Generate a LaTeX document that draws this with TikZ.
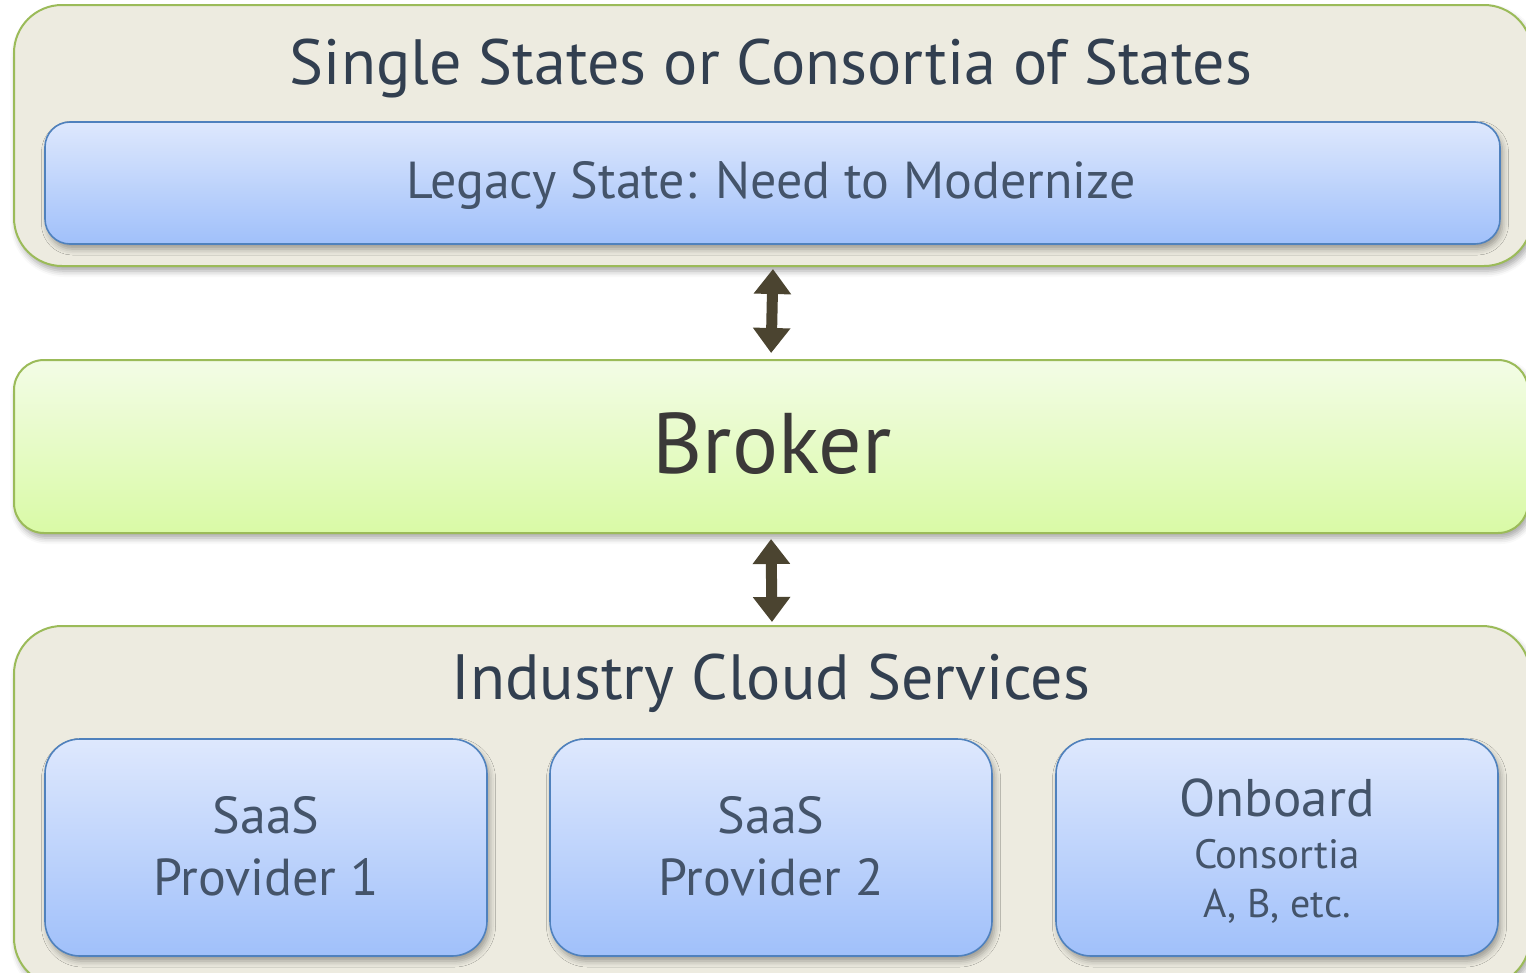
\documentclass[tikz,border=0pt]{standalone}
\usepackage{fontspec}
\setmainfont{PT Sans}
\usetikzlibrary{arrows.meta,shadows.blur}
\definecolor{outerfill}{HTML}{EDEBE0}
\definecolor{greenline}{HTML}{9BBB59}
\definecolor{bluetop}{HTML}{DEE8FD}
\definecolor{bluebot}{HTML}{A0C0FA}
\definecolor{blueline}{HTML}{4F81BD}
\definecolor{brokertop}{HTML}{F3FCE6}
\definecolor{brokerbot}{HTML}{D9FAA6}
\definecolor{titletext}{HTML}{323F50}
\definecolor{innertext}{HTML}{44546A}
\definecolor{brokertext}{HTML}{3B3938}
\definecolor{arrowcol}{HTML}{4B4430}
\tikzset{
  shadowed/.style={blur shadow={shadow xshift=2.5pt, shadow yshift=-5pt, shadow blur radius=6pt, shadow opacity=35}},
  outerbox/.style={draw=greenline, line width=2pt, fill=outerfill, rounded corners=48pt, inner sep=0pt, shadowed},
  brokerbox/.style={draw=greenline, line width=2pt, top color=brokertop, bottom color=brokerbot, rounded corners=30pt, inner sep=0pt, shadowed},
  bluebox/.style={draw=blueline, line width=1.6pt, top color=bluetop, bottom color=bluebot, inner sep=0pt, shadowed},
  dblarrow/.style={draw=arrowcol, line width=11pt, {Triangle[width=36pt,length=25pt]}-{Triangle[width=36pt,length=25pt]}},
  titlelabel/.style={text=titletext, font=\fontsize{64}{70}\selectfont, inner sep=0pt},
  bluelabel/.style={text=innertext, align=center, inner sep=0pt}
}
\begin{document}
\begin{tikzpicture}[x=1pt,y=-1pt]
\useasboundingbox (0,0) rectangle (1526,972);
\clip (0,0) rectangle (1526,972);
% top group
\node[outerbox, minimum width=1518pt, minimum height=261pt] (topgroup) at (773,135.5) {};
\node[titlelabel] (toptitle) at (771,68) {Single States or Consortia of States};
\node[bluebox, rounded corners=25pt, minimum width=1455pt, minimum height=122pt] (legacy) at (772.5,183) {};
\node[bluelabel, font=\fontsize{52}{60}\selectfont] (legacytext) at (771,185) {Legacy State: Need to Modernize};
% broker
\node[brokerbox, minimum width=1514pt, minimum height=173pt] (broker) at (771,446.5) {};
\node[text=brokertext, font=\fontsize{86}{90}\selectfont, inner sep=0pt] (brokertext) at (772,444) {Broker};
% bottom group
\node[outerbox, minimum width=1516pt, minimum height=360pt] (botgroup) at (772,806) {};
\node[titlelabel] (bottitle) at (771,683) {Industry Cloud Services};
\node[bluebox, rounded corners=35pt, minimum width=442pt, minimum height=217pt] (saas1) at (266,847.5) {};
\node[bluebox, rounded corners=35pt, minimum width=442pt, minimum height=217pt] (saas2) at (771,847.5) {};
\node[bluebox, rounded corners=35pt, minimum width=442pt, minimum height=217pt] (onboard) at (1277,847.5) {};
\node[bluelabel, font=\fontsize{52}{62}\selectfont] (saas1text) at (266,846) {SaaS\\Provider 1};
\node[bluelabel, font=\fontsize{52}{62}\selectfont] (saas2text) at (771,846) {SaaS\\Provider 2};
\node[bluelabel, font=\fontsize{40}{49}\selectfont] (onboardtext) at (1277,851) {{\fontsize{53}{49}\selectfont Onboard}\\[3pt]{\fontsize{41}{49}\selectfont Consortia}\\A, B, etc.};
% arrows
\draw[dblarrow, shorten <=2pt, shorten >=6pt] (topgroup.south) -- (broker.north);
\draw[dblarrow, shorten <=5pt, shorten >=3pt] (broker.south) -- (botgroup.north);
\end{tikzpicture}
\end{document}
